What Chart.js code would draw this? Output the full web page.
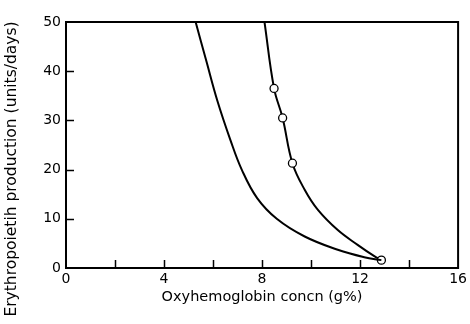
<!DOCTYPE html>
<html>
<head>
<meta charset="utf-8">
<script src="https://cdn.jsdelivr.net/npm/chart.js@4/dist/chart.umd.min.js"></script>
<style>
html,body{margin:0;padding:0;background:#fff;}
#wrap{width:470px;height:324px;}
</style>
</head>
<body>
<div id="wrap"><canvas id="c" width="470" height="324"></canvas></div>
<script>
// Left curve (no markers)
const leftX = [5.29, 5.73, 6.17, 6.71, 7.18, 7.8, 8.6, 9.74, 11.09, 12.17, 12.87];
const leftY = [50, 42, 34.1, 26.0, 19.9, 14.2, 10.0, 6.4, 3.7, 2.2, 1.6];
// Right curve (markers at observed points)
const rightX = [8.1, 8.49, 8.84, 9.24, 9.74, 10.28, 11.09, 11.9, 12.58, 12.87];
const rightY = [50, 36.5, 30.5, 21.3, 15.9, 11.8, 7.7, 4.7, 2.4, 1.6];
const rightMarked = [false, true, true, true, false, false, false, false, false, true];
const xTickLabels = [0, 4, 8, 12, 16];
const yTickLabels = [0, 10, 20, 30, 40, 50];
const xMinorTicks = [2, 4, 6, 8, 10, 12, 14];
const yMinorTicks = [10, 20, 30, 40];
const xTitle = 'Oxyhemoglobin concn (g%)';
const yTitle = 'Erythropoietih production (units/days)';

const toPts = (xs, ys) => xs.map((x, i) => ({x: x, y: ys[i]}));

const innerTicks = {
  id: 'innerTicks',
  afterDraw(chart) {
    const ctx = chart.ctx, xs = chart.scales.x, ys = chart.scales.y;
    const a = chart.chartArea;
    ctx.save();
    ctx.strokeStyle = '#000';
    ctx.lineWidth = 1.5;
    ctx.beginPath();
    xMinorTicks.forEach(v => {
      const px = Math.round(xs.getPixelForValue(v)) + 0.5;
      ctx.moveTo(px, a.bottom);
      ctx.lineTo(px, a.bottom - 8);
    });
    yMinorTicks.forEach(v => {
      const py = Math.round(ys.getPixelForValue(v)) + 0.5;
      ctx.moveTo(a.left, py);
      ctx.lineTo(a.left + 8, py);
    });
    ctx.stroke();
    ctx.lineWidth = 2;
    ctx.strokeRect(a.left, a.top, a.right - a.left, a.bottom - a.top);
    // y axis title
    ctx.translate(12, 169);
    ctx.rotate(-Math.PI / 2);
    ctx.fillStyle = '#000';
    ctx.font = '15.5px "DejaVu Sans"';
    ctx.textAlign = 'center';
    ctx.textBaseline = 'middle';
    ctx.fillText(yTitle, 0, 0);
    ctx.restore();
  }
};

new Chart(document.getElementById('c'), {
  type: 'line',
  data: {
    datasets: [
      {
        data: toPts(leftX, leftY),
        borderColor: '#000', borderWidth: 2, pointRadius: 0,
        tension: 0.4, fill: false
      },
      {
        data: toPts(rightX, rightY),
        borderColor: '#000', borderWidth: 2,
        pointRadius: rightMarked.map(m => m ? 4 : 0),
        pointBackgroundColor: '#fff', pointBorderColor: '#000', pointBorderWidth: 1.3,
        tension: 0.4, fill: false
      }
    ]
  },
  plugins: [innerTicks],
  options: {
    responsive: false,
    animation: false,
    layout: {padding: {top: 22, right: 9, left: 0, bottom: 18}},
    plugins: {legend: {display: false}, tooltip: {enabled: false}},
    scales: {
      x: {
        type: 'linear', min: 0, max: 16,
        grid: {display: false, drawTicks: false},
        border: {display: true, color: '#000', width: 2},
        ticks: {
          stepSize: 4, padding: 3, color: '#000', autoSkip: false, maxRotation: 0,
          font: {family: 'DejaVu Sans', size: 14},
          callback: v => xTickLabels.includes(v) ? String(v) : ''
        },
        title: {display: true, text: xTitle, color: '#000',
          font: {family: 'DejaVu Sans', size: 14.5}, padding: {top: 1, bottom: 0}},
        afterFit: s => { s.height = 38; }
      },
      y: {
        type: 'linear', min: 0, max: 50,
        grid: {display: false, drawTicks: false},
        border: {display: true, color: '#000', width: 2},
        ticks: {
          stepSize: 10, padding: 5, color: '#000',
          font: {family: 'DejaVu Sans', size: 14},
          callback: v => yTickLabels.includes(v) ? String(v) : ''
        },
        afterFit: s => { s.width = 66; }
      }
    }
  }
});
</script>
</body>
</html>
